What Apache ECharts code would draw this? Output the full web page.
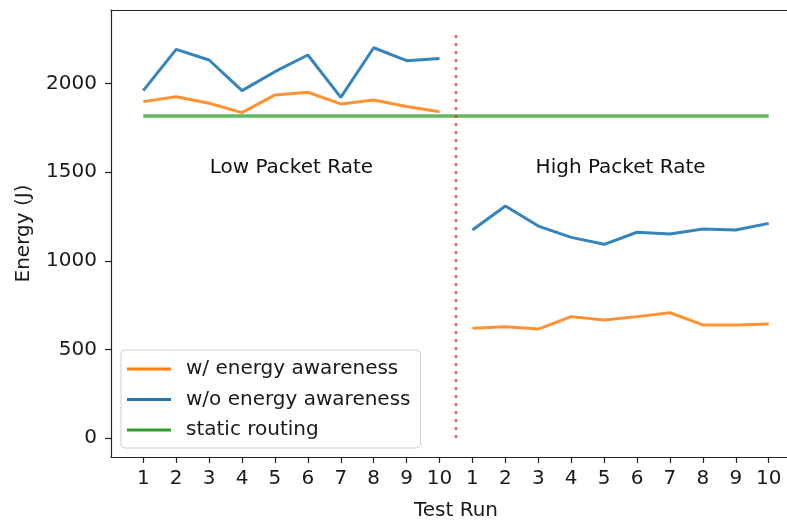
<!DOCTYPE html>
<html>
<head>
<meta charset="utf-8">
<script src="https://cdn.jsdelivr.net/npm/echarts@6/dist/echarts.min.js"></script>
<style>
html,body{margin:0;padding:0;background:#fff;}
#chart{width:787px;height:522px;}
</style>
</head>
<body>
<div id="chart"></div>
<script>
// ---- data ----
const tickLabels = ['1','2','3','4','5','6','7','8','9','10','1','2','3','4','5','6','7','8','9','10'];
const yTicks = [0, 500, 1000, 1500, 2000];
const lowWith     = [1898, 1926, 1889, 1836, 1936, 1951, 1885, 1907, 1870, 1841];
const lowWithout  = [1960, 2193, 2133, 1960, 2067, 2161, 1922, 2202, 2129, 2142];
const highWith    = [619, 628, 615, 685, 666, 685, 707, 638, 638, 643];
const highWithout = [1174, 1309, 1196, 1132, 1093, 1161, 1151, 1179, 1174, 1211];
const staticRouting = [1817,1817,1817,1817,1817,1817,1817,1817,1817,1817,1817,1817,1817,1817,1817,1817,1817,1817,1817,1817];
const seriesNames = ['w/ energy awareness', 'w/o energy awareness', 'static routing'];
const dividerX = 9.5;
const dividerRange = [0, 2285];
const regionLabels = ['Low Packet Rate', 'High Packet Rate'];
const regionX = [4.5, 14.5];
const regionY = 1500;

// ---- build ----
function splitSeries(low, high) {
  const d = low.map((v, i) => [i, v]);
  d.push([dividerX, '-']);
  high.forEach((v, i) => d.push([low.length + i, v]));
  return d;
}
const FONT = 'DejaVu Sans';
const TXT = '#1a1a1a';
const FS = 20;
const xIdx = tickLabels.map((_, i) => i);

const chart = echarts.init(document.getElementById('chart'), null, {renderer: 'canvas'});
chart.setOption({
  animation: false,
  backgroundColor: '#fff',
  textStyle: {fontFamily: FONT},
  grid: {left: 111, width: 690, top: 10, height: 447, containLabel: false, outerBoundsMode: 'none'},
  xAxis: [{
    type: 'value', position: 'bottom', min: -0.98, max: 19.98,
    axisLine: {show: true, onZero: false, lineStyle: {color: '#222', width: 1.2}},
    axisTick: {show: true, length: 6, customValues: xIdx, lineStyle: {color: '#222', width: 1.2}},
    axisLabel: {show: true, customValues: xIdx, formatter: v => tickLabels[Math.round(v)],
      fontSize: FS, color: TXT, fontFamily: FONT, margin: 12},
    splitLine: {show: false},
    name: 'Test Run', nameLocation: 'middle', nameGap: 44,
    nameTextStyle: {fontSize: FS, color: TXT, fontFamily: FONT}
  }, {
    type: 'value', position: 'top', min: -0.98, max: 19.98,
    axisLine: {show: true, onZero: false, lineStyle: {color: '#222', width: 1.2}},
    axisTick: {show: false}, axisLabel: {show: false}, splitLine: {show: false}
  }],
  yAxis: [{
    type: 'value', min: -107, max: 2415,
    axisLine: {show: true, onZero: false, lineStyle: {color: '#222', width: 1.2}},
    axisTick: {show: true, length: 6, customValues: yTicks, lineStyle: {color: '#222', width: 1.2}},
    axisLabel: {show: true, customValues: yTicks, formatter: v => String(v),
      fontSize: FS, color: TXT, fontFamily: FONT, margin: 14},
    splitLine: {show: false},
    name: 'Energy (J)', nameLocation: 'middle', nameRotate: 90, nameGap: 77,
    nameTextStyle: {fontSize: FS, color: TXT, fontFamily: FONT}
  }],
  legend: {
    data: seriesNames, orient: 'vertical', left: 121, top: 350,
    icon: 'rect', itemWidth: 44, itemHeight: 3, itemGap: 8.5,
    padding: [8, 10, 7, 6],
    backgroundColor: 'rgba(255,255,255,0.85)', borderColor: '#d0d0d0', borderWidth: 1, borderRadius: 4,
    textStyle: {fontSize: FS, color: TXT, fontFamily: FONT, lineHeight: 22, padding: [0, 0, 0, 10]}
  },
  series: [
    {name: seriesNames[0], type: 'line', data: splitSeries(lowWith, highWith), showSymbol: false,
     color: '#ff7f0e', lineStyle: {width: 3, color: '#ff7f0e', opacity: 0.85}, z: 3},
    {name: seriesNames[1], type: 'line', data: splitSeries(lowWithout, highWithout), showSymbol: false,
     color: '#1f77b4', lineStyle: {width: 3, color: '#1f77b4', opacity: 0.9}, z: 3},
    {name: seriesNames[2], type: 'line', data: staticRouting.map((v, i) => [i, v]), showSymbol: false,
     color: '#2ca02c', lineStyle: {width: 3.5, color: '#2ca02c', opacity: 0.75}, z: 2},
    {name: 'divider', type: 'line', data: dividerRange.map(v => [dividerX, v]), showSymbol: false,
     lineStyle: {width: 2.5, color: '#e03030', opacity: 0.75, type: [3, 5], cap: 'butt'}, z: 4, silent: true},
    {name: 'regions', type: 'scatter', symbolSize: 0, silent: true,
     itemStyle: {opacity: 1},
     data: regionLabels.map((t, i) => ({name: t, value: [regionX[i], regionY]})),
     label: {show: true, position: 'top', distance: -6, formatter: p => p.name, opacity: 1,
       fontSize: FS, color: '#111', fontFamily: FONT}}
  ]
});
</script>
</body>
</html>
